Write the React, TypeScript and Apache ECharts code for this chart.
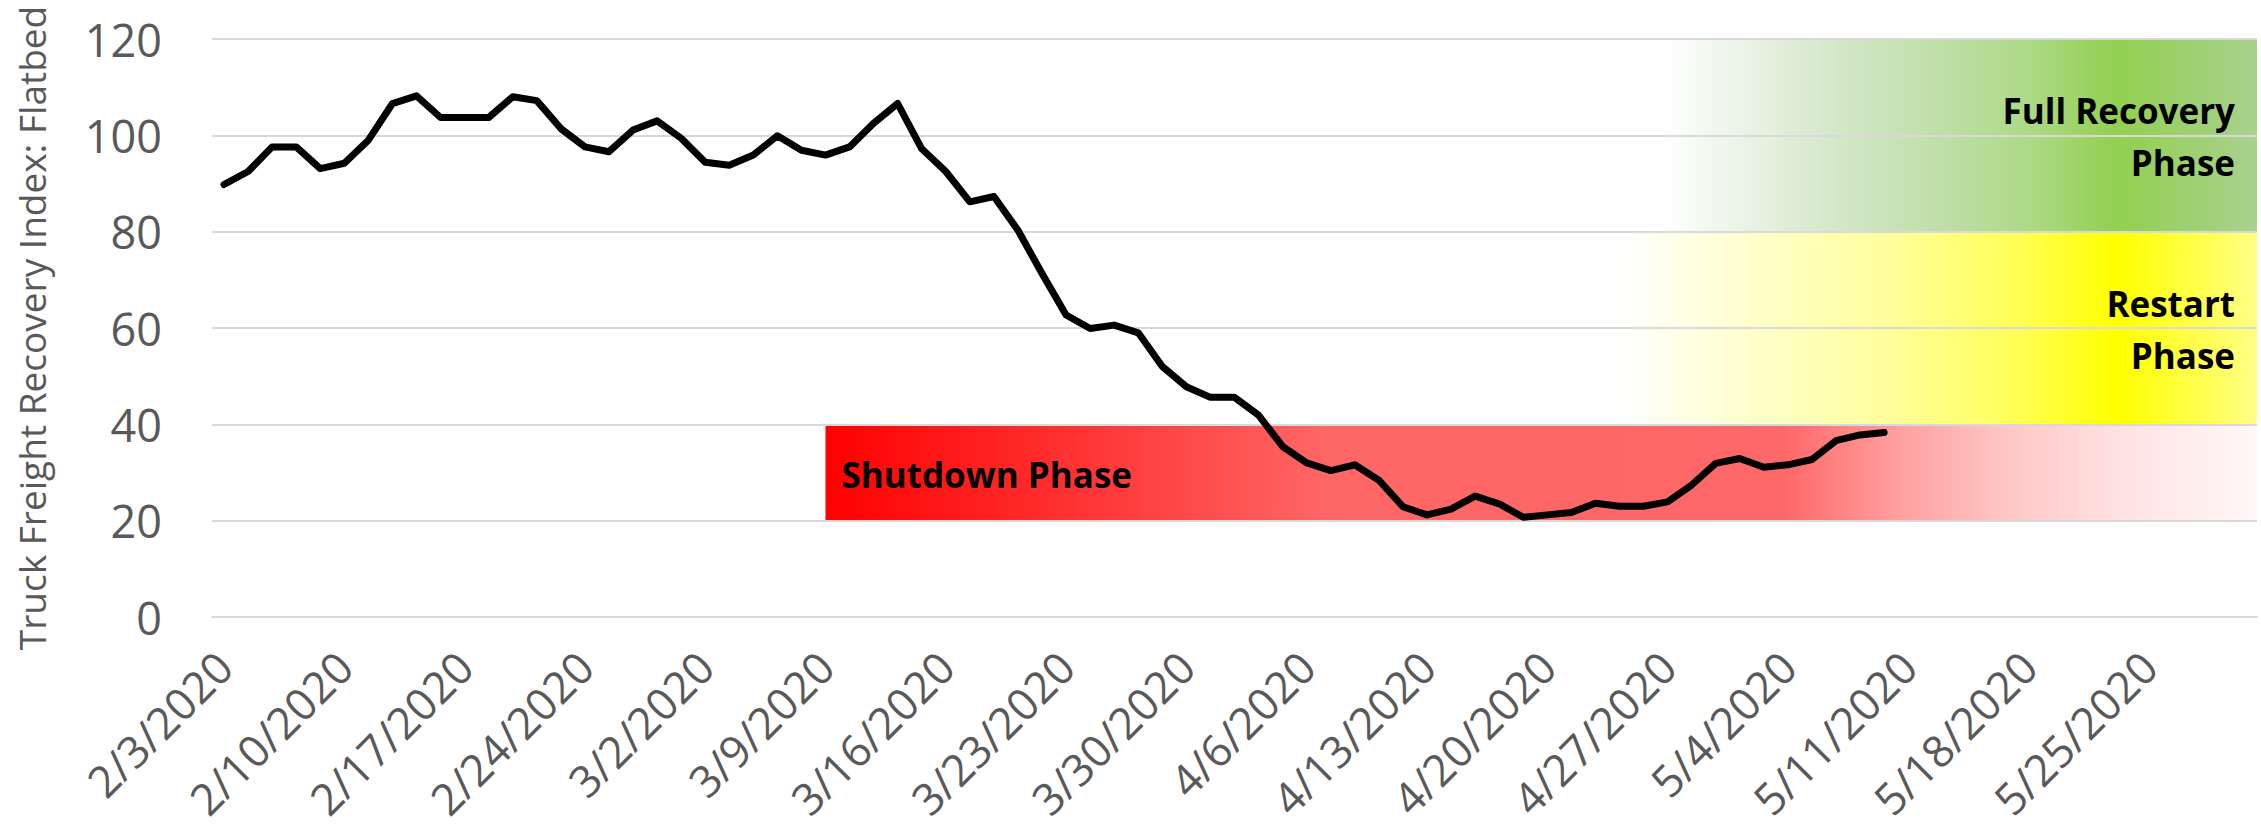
import React, { useEffect, useRef } from "react";
import * as echarts from "echarts";

const categories: string[] = [
  "2/3/2020", "2/4/2020", "2/5/2020", "2/6/2020", "2/7/2020",
  "2/10/2020", "2/11/2020", "2/12/2020", "2/13/2020", "2/14/2020",
  "2/17/2020", "2/18/2020", "2/19/2020", "2/20/2020", "2/21/2020",
  "2/24/2020", "2/25/2020", "2/26/2020", "2/27/2020", "2/28/2020",
  "3/2/2020", "3/3/2020", "3/4/2020", "3/5/2020", "3/6/2020",
  "3/9/2020", "3/10/2020", "3/11/2020", "3/12/2020", "3/13/2020",
  "3/16/2020", "3/17/2020", "3/18/2020", "3/19/2020", "3/20/2020",
  "3/23/2020", "3/24/2020", "3/25/2020", "3/26/2020", "3/27/2020",
  "3/30/2020", "3/31/2020", "4/1/2020", "4/2/2020", "4/3/2020",
  "4/6/2020", "4/7/2020", "4/8/2020", "4/9/2020", "4/10/2020",
  "4/13/2020", "4/14/2020", "4/15/2020", "4/16/2020", "4/17/2020",
  "4/20/2020", "4/21/2020", "4/22/2020", "4/23/2020", "4/24/2020",
  "4/27/2020", "4/28/2020", "4/29/2020", "4/30/2020", "5/1/2020",
  "5/4/2020", "5/5/2020", "5/6/2020", "5/7/2020", "5/8/2020",
  "5/11/2020", "5/12/2020", "5/13/2020", "5/14/2020", "5/15/2020",
  "5/18/2020", "5/19/2020", "5/20/2020", "5/21/2020", "5/22/2020",
  "5/25/2020", "5/26/2020", "5/27/2020", "5/28/2020", "5/29/2020",
];

const flatbedIndex: number[] = [
  89.8, 92.5, 97.6, 97.6, 93.1, 94.2, 99.0, 106.6, 108.2, 103.7,
  103.7, 103.7, 108.0, 107.2, 101.4, 97.6, 96.6, 101.1, 103.0, 99.4,
  94.4, 93.8, 95.9, 99.9, 96.9, 95.9, 97.6, 102.5, 106.6, 97.2,
  92.5, 86.2, 87.3, 80.3, 71.3, 62.7, 59.9, 60.6, 59.0, 52.0,
  47.8, 45.6, 45.6, 41.9, 35.4, 32.0, 30.4, 31.6, 28.4, 22.9,
  21.2, 22.4, 25.1, 23.5, 20.7, 21.2, 21.7, 23.6, 23.0, 23.0,
  23.9, 27.4, 31.9, 32.9, 31.1, 31.6, 32.7, 36.6, 37.8, 38.3,
];

const yTicks: number[] = [0, 20, 40, 60, 80, 100, 120];

const bandNames: string[] = ["Shutdown Phase", "Restart\nPhase", "Full Recovery\nPhase"];
const bandStart: string[] = ["3/9/2020", "4/23/2020", "4/23/2020"];
const bandLow: number[] = [20, 40, 80];
const bandHigh: number[] = [40, 80, 120];

const bandStops: [number, string][][] = [
  [[0, "#FF0000"], [0.35, "#FF6666"], [0.67, "#FF6868"], [0.75, "#FFA0A0"], [0.83, "#FFC8C8"], [0.9, "#FFE0E0"], [1, "#FFF8F8"]],
  [[0, "#FFFFFF"], [0.17, "#FFFFD5"], [0.43, "#FFFF9A"], [0.63, "#FFFF55"], [0.78, "#FFFF00"], [1, "#FFFF85"]],
  [[0, "#FFFFFF"], [0.07, "#FFFFFF"], [0.17, "#EEF5EA"], [0.33, "#D5E8CB"], [0.5, "#BFDFA8"], [0.63, "#AEDA8A"], [0.78, "#92D050"], [1, "#A9D18E"]],
];

export default function App() {
  const ref = useRef<HTMLDivElement>(null);

  useEffect(() => {
    document.body.style.margin = "0";
    if (!ref.current) return;
    const chart = echarts.init(ref.current, null, { renderer: "svg" });

    const bandData = bandNames.map((n, i) => [categories.indexOf(bandStart[i]), bandLow[i], bandHigh[i], i]);

    const option: any = {
      animation: false,
      grid: { left: 212, right: 4, top: 39, bottom: 212, containLabel: false },
      xAxis: {
        type: "category",
        data: categories,
        boundaryGap: true,
        axisTick: { show: false },
        axisLine: { show: true, lineStyle: { color: "#D9D9D9", width: 2 } },
        axisLabel: {
          interval: 4,
          rotate: 45,
          margin: 42,
          color: "#595959",
          fontFamily: "'Open Sans', sans-serif",
          fontSize: 44,
        },
        splitLine: { show: false },
      },
      yAxis: {
        type: "value",
        min: yTicks[0],
        max: yTicks[yTicks.length - 1],
        interval: 20,
        z: 3,
        name: "Truck Freight Recovery Index: Flatbed",
        nameLocation: "middle",
        nameRotate: 90,
        nameGap: 162,
        nameTextStyle: {
          color: "#595959",
          fontFamily: "'Open Sans', sans-serif",
          fontSize: 37,
        },
        axisLine: { show: false },
        axisTick: { show: false },
        axisLabel: {
          margin: 50,
          color: "#595959",
          fontFamily: "'Open Sans', sans-serif",
          fontSize: 45,
        },
        splitLine: { show: true, lineStyle: { color: "#D9D9D9", width: 2 } },
      },
      series: [
        {
          type: "custom",
          z: 1,
          silent: true,
          encode: { x: 0, y: [1, 2] },
          data: bandData,
          renderItem: (params: any, api: any) => {
            const idx = api.value(3);
            const p0 = api.coord([api.value(0), api.value(2)]);
            const p1 = api.coord([api.value(0), api.value(1)]);
            const cs = params.coordSys;
            const right = cs.x + cs.width;
            const x0 = p0[0];
            const yTop = p0[1];
            const yBot = p1[1];
            const w = right - x0;
            const h = yBot - yTop;
            const isLeftText = idx === 0;
            return {
              type: "group",
              children: [
                {
                  type: "rect",
                  shape: { x: x0, y: yTop, width: w, height: h },
                  style: {
                    fill: new echarts.graphic.LinearGradient(
                      0, 0, 1, 0,
                      bandStops[idx].map((s) => ({ offset: s[0], color: s[1] }))
                    ),
                  },
                },
                {
                  type: "text",
                  z2: 10,
                  style: {
                    text: bandNames[idx],
                    x: isLeftText ? x0 + 16 : right - 22,
                    y: yTop + h / 2 + (isLeftText ? 1.5 : 1),
                    align: isLeftText ? "left" : "right",
                    verticalAlign: "middle",
                    fontFamily: "'Open Sans', sans-serif",
                    fontWeight: "bold",
                    fontSize: 35,
                    lineHeight: 52,
                    fill: "#000000",
                  },
                },
              ],
            };
          },
        },
        {
          type: "line",
          z: 5,
          data: flatbedIndex,
          showSymbol: false,
          symbol: "none",
          lineStyle: { color: "#000000", width: 7, cap: "round", join: "round" },
        },
      ],
    };

    chart.setOption(option);
    return () => chart.dispose();
  }, []);

  return <div ref={ref} style={{ width: 2261, height: 829 }} />;
}
